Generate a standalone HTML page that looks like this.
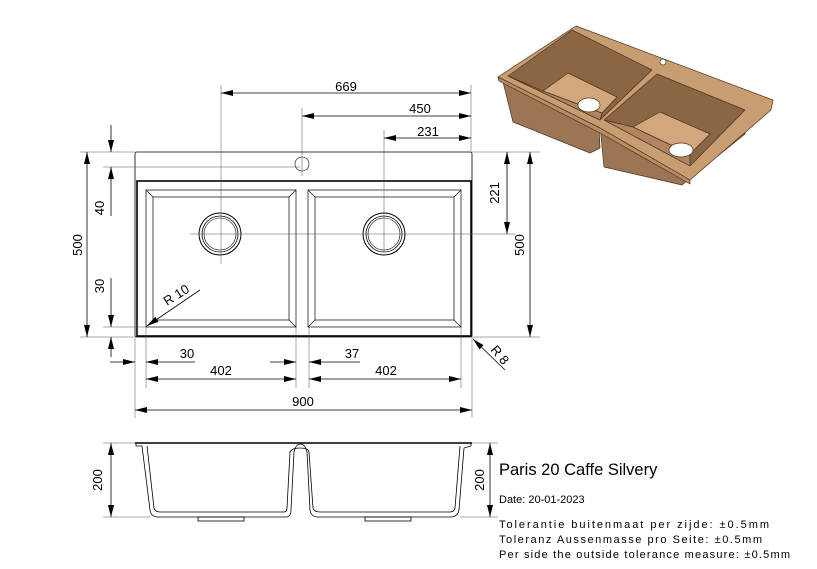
<!DOCTYPE html>
<html><head><meta charset="utf-8"><style>html,body{margin:0;padding:0;background:#fff}svg{display:block}</style></head>
<body>
<svg width="817" height="569" viewBox="0 0 817 569" xmlns="http://www.w3.org/2000/svg" font-family="Liberation Sans, sans-serif">
<defs>
<marker id="a" viewBox="0 0 12 6" refX="12" refY="3" markerWidth="12" markerHeight="6" markerUnits="userSpaceOnUse" orient="auto-start-reverse"><path d="M0,0 L12,3 L0,6z" fill="#000"/></marker>
</defs>
<!-- 3D sink -->
<g stroke="#4a3420" stroke-width="0.7" stroke-linejoin="round">
<polygon points="503,82 513,122 590,153 600,148 599,126" fill="#9c7654"/>
<polygon points="600,126 604,167 682,185 745,134 749,114" fill="#9c7654"/>
<polygon points="498,77 576,26 773,100 771,110 690,180 600,128" fill="#c99d72"/>
<polygon points="498,77 600,128 690,180 690,184 600,133 499,81" fill="#b88c63"/>
<polygon points="508,76 572,30 652,70 600,120" fill="#8b6645"/>
<polygon points="508,76 600,120 602,113 543,91" fill="#b08560"/>
<polygon points="543,91 568,73 617,97 602,113" fill="#d2a77b"/>
<polygon points="604,120 657,74 745,110 690,166" fill="#8b6645"/>
<polygon points="604,120 690,166 690,154 633,127" fill="#b08560"/>
<polygon points="633,127 660,112 710,134 690,154" fill="#d2a77b"/>
<ellipse cx="589" cy="105" rx="11" ry="7" fill="#fff"/>
<ellipse cx="681" cy="150" rx="12" ry="7" fill="#fff"/>
<circle cx="663" cy="62" r="3" fill="#fff"/>
</g>
<!-- top view -->
<g fill="none" stroke="#000">
<rect x="135" y="152" width="337" height="185" rx="2" stroke-width="0.8"/>
<rect x="137" y="181" width="334" height="155" stroke-width="1.6"/>
<rect x="146" y="190" width="150" height="137" stroke-width="0.7"/>
<rect x="153" y="197" width="136" height="123" stroke-width="0.7"/>
<rect x="308" y="190" width="153" height="137" stroke-width="0.7"/>
<rect x="315" y="197" width="139" height="123" stroke-width="0.7"/>
<path d="M146,190 L153,197 M296,190 L289,197 M146,327 L153,320 M296,327 L289,320 M308,190 L315,197 M461,190 L454,197 M308,327 L315,320 M461,327 L454,320" stroke-width="0.7"/>
<circle cx="220" cy="234" r="21" stroke-width="1"/><circle cx="220" cy="234" r="18" stroke-width="0.8"/><circle cx="220" cy="234" r="16" stroke-width="0.6"/>
<circle cx="384" cy="234" r="21" stroke-width="1"/><circle cx="384" cy="234" r="18" stroke-width="0.8"/><circle cx="384" cy="234" r="16" stroke-width="0.6"/>
<circle cx="302" cy="164" r="7" stroke-width="0.6"/>
</g>
<!-- extension lines -->
<g stroke="#555" stroke-width="0.5" fill="none">
<path d="M221,85 V264 M302,108 V176 M384,130 V252 M471,85 V152 M190,234 H515 M80,152 H135 M103,167 H300 M103,327 H148 M80,337 H135 M472,152 H540 M472,337 H540 M135,337 V418 M472,337 V418 M146,327 V388 M296,327 V388 M309,327 V388 M461,327 V388 M103,443 H136 M103,517 H150 M472,443 H498 M460,517 H498"/>
</g>
<!-- dimension lines -->
<g stroke="#000" stroke-width="0.8" fill="none">
<line x1="221" y1="93" x2="471" y2="93" marker-start="url(#a)" marker-end="url(#a)"/>
<line x1="302" y1="116" x2="471" y2="116" marker-start="url(#a)" marker-end="url(#a)"/>
<line x1="384" y1="138" x2="471" y2="138" marker-start="url(#a)" marker-end="url(#a)"/>
<line x1="87" y1="152" x2="87" y2="337" marker-start="url(#a)" marker-end="url(#a)"/>
<line x1="111" y1="125" x2="111" y2="152" marker-end="url(#a)"/>
<line x1="111" y1="216" x2="111" y2="167" marker-end="url(#a)"/>
<line x1="111" y1="278" x2="111" y2="327" marker-end="url(#a)"/>
<line x1="111" y1="357" x2="111" y2="337" marker-end="url(#a)"/>
<line x1="507" y1="152" x2="507" y2="234" marker-start="url(#a)" marker-end="url(#a)"/>
<line x1="530" y1="152" x2="530" y2="337" marker-start="url(#a)" marker-end="url(#a)"/>
<line x1="110" y1="362" x2="135" y2="362" marker-end="url(#a)"/>
<line x1="195" y1="362" x2="146" y2="362" marker-end="url(#a)"/>
<line x1="270" y1="362" x2="296" y2="362" marker-end="url(#a)"/>
<line x1="360" y1="362" x2="309" y2="362" marker-end="url(#a)"/>
<line x1="146" y1="379" x2="296" y2="379" marker-start="url(#a)" marker-end="url(#a)"/>
<line x1="309" y1="379" x2="461" y2="379" marker-start="url(#a)" marker-end="url(#a)"/>
<line x1="135" y1="410" x2="472" y2="410" marker-start="url(#a)" marker-end="url(#a)"/>
<line x1="200" y1="290" x2="147" y2="326" marker-end="url(#a)"/>
<line x1="505" y1="370" x2="473" y2="339" marker-end="url(#a)"/>
<line x1="111" y1="443" x2="111" y2="517" marker-start="url(#a)" marker-end="url(#a)"/>
<line x1="490" y1="443" x2="490" y2="517" marker-start="url(#a)" marker-end="url(#a)"/>
</g>
<!-- side view -->
<g fill="none" stroke="#000" stroke-width="0.8">
<line x1="135" y1="443" x2="472" y2="443" stroke-width="1.6"/>
<path d="M136,443 L136,446 L142,446 L150,510 Q151,517 158,517 L287,517 Q291,516 291,510 L294,452 Q296,444 300,444 Q305,444 307,452 L310,510 Q311,517 318,517 L452,517 Q458,516 459,510 L464,448 L471,446 L471,443"/>
<path d="M147,446 L154,508 Q155,512 160,512 L284,512 Q287,512 287,508 L290,452 Q292,448 300,448 Q308,448 309,452 L313,508 Q314,512 320,512 L450,512 Q454,512 455,508 L460,446"/>
<rect x="198" y="517" width="46" height="4"/>
<rect x="365" y="517" width="46" height="4"/>
</g>
<!-- text -->
<g font-size="13" fill="#000">
<text x="346" y="91" text-anchor="middle">669</text>
<text x="420" y="113" text-anchor="middle">450</text>
<text x="428" y="136" text-anchor="middle">231</text>
<text x="187" y="358" text-anchor="middle">30</text>
<text x="352" y="358" text-anchor="middle">37</text>
<text x="221" y="375" text-anchor="middle">402</text>
<text x="386" y="375" text-anchor="middle">402</text>
<text x="303" y="406" text-anchor="middle">900</text>
<text transform="translate(82,245) rotate(-90)" text-anchor="middle">500</text>
<text transform="translate(104,208) rotate(-90)" text-anchor="middle">40</text>
<text transform="translate(104,286) rotate(-90)" text-anchor="middle">30</text>
<text transform="translate(499,193) rotate(-90)" text-anchor="middle">221</text>
<text transform="translate(524,245) rotate(-90)" text-anchor="middle">500</text>
<text transform="translate(102,480) rotate(-90)" text-anchor="middle">200</text>
<text transform="translate(484,480) rotate(-90)" text-anchor="middle">200</text>
<text transform="translate(167,306) rotate(-32)">R 10</text>
<text transform="translate(490,350) rotate(50)">R 8</text>
<text x="499" y="475" font-size="16.5">Paris 20 Caffe Silvery</text>
<text x="499" y="503" font-size="11">Date: 20-01-2023</text>
<text x="499" y="528" font-size="11" textLength="270" lengthAdjust="spacing">Tolerantie buitenmaat per zijde: ±0.5mm</text>
<text x="499" y="543" font-size="11" textLength="263" lengthAdjust="spacing">Toleranz Aussenmasse pro Seite: ±0.5mm</text>
<text x="499" y="558" font-size="11" textLength="291" lengthAdjust="spacing">Per side the outside tolerance measure: ±0.5mm</text>
</g>
</svg>
</body></html>
